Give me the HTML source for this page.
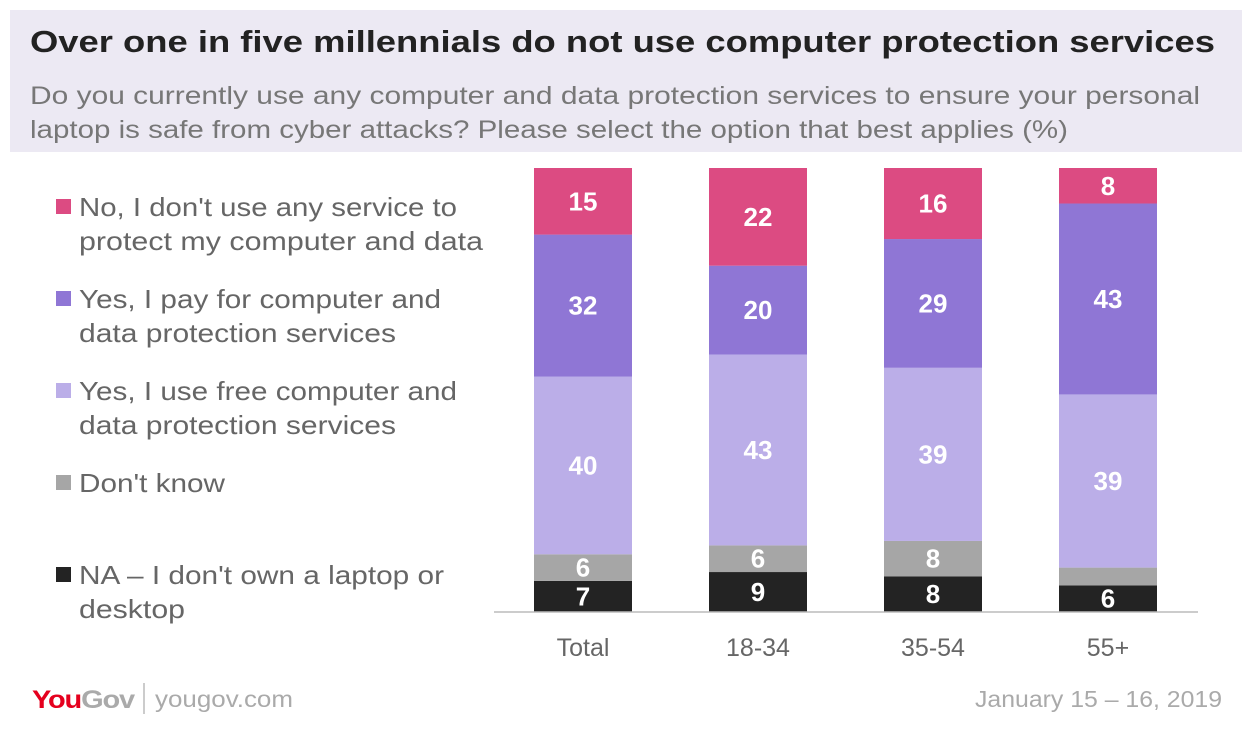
<!DOCTYPE html>
<html><head><meta charset="utf-8">
<style>
body{margin:0;background:#fff;font-family:"Liberation Sans",sans-serif;}
#wrap{position:relative;width:1254px;height:730px;overflow:hidden;}
</style></head>
<body>
<div id="wrap">
<svg id="svg" width="1254" height="730" xmlns="http://www.w3.org/2000/svg">
<rect x="10" y="10" width="1232" height="142" fill="#ece9f3"/>
<text x="30" y="52" font-size="31" font-weight="bold" fill="#222" textLength="1185" lengthAdjust="spacingAndGlyphs">Over one in five millennials do not use computer protection services</text>
<text x="30" y="104" font-size="25" fill="#777" textLength="1170" lengthAdjust="spacingAndGlyphs">Do you currently use any computer and data protection services to ensure your personal</text>
<text x="30" y="138" font-size="25" fill="#777" textLength="1038" lengthAdjust="spacingAndGlyphs">laptop is safe from cyber attacks? Please select the option that best applies (%)</text>
<g id="legend"></g>
<g id="bars"></g>
<line x1="494" y1="612" x2="1198" y2="612" stroke="#bbb" stroke-width="1.5"/>
<g id="xlabels"></g>
<text x="32" y="708" font-size="25" font-weight="bold" fill="#e5001e" letter-spacing="-1" textLength="102" lengthAdjust="spacingAndGlyphs">You<tspan fill="#aaa">Gov</tspan></text>
<line x1="144" y1="683" x2="144" y2="714" stroke="#bbb" stroke-width="1.5"/>
<text x="155" y="707" font-size="23" fill="#aaa" textLength="138" lengthAdjust="spacingAndGlyphs">yougov.com</text>
<text x="975" y="707" font-size="23" fill="#aaa" textLength="247" lengthAdjust="spacingAndGlyphs">January 15 – 16, 2019</text>
</svg>
</div>
<script>
const categories = ["Total","18-34","35-54","55+"];
const seriesNames = ["NA – I don't own a laptop or desktop","Don't know","Yes, I use free computer and data protection services","Yes, I pay for computer and data protection services","No, I don't use any service to protect my computer and data"];
const naValues = [7,9,8,6];
const dontKnowValues = [6,6,8,4];
const freeValues = [40,43,39,39];
const payValues = [32,20,29,43];
const noValues = [15,22,16,8];
const showLabel = [[true,true,true,true],[true,true,true,false],[true,true,true,true],[true,true,true,true],[true,true,true,true]];

const NS="http://www.w3.org/2000/svg";
const series=[naValues,dontKnowValues,freeValues,payValues,noValues];
const colors=["#232323","#a6a6a6","#bbaee8","#8f76d5","#dc4b82"];
const slugs=["bar-na","bar-dont-know","bar-free","bar-pay","bar-no"];
const baseY=612, plotH=444;
const xCenters=[583,758,933,1108], barW=98;
function yScale(v){return v*plotH/100;}
const bars=document.getElementById('bars');
categories.forEach((c,i)=>{
  let acc=0;
  series.forEach((s,k)=>{
    const h=yScale(s[i]);
    const y=baseY-yScale(acc)-h;
    const r=document.createElementNS(NS,'rect');
    r.setAttribute('x',xCenters[i]-barW/2);r.setAttribute('y',y);
    r.setAttribute('width',barW);r.setAttribute('height',h);
    r.setAttribute('fill',colors[k]);
    
    
    bars.appendChild(r);
    if(showLabel[k][i]){
      const t=document.createElementNS(NS,'text');
      t.setAttribute('x',xCenters[i]);t.setAttribute('y',y+h/2+9);
      t.setAttribute('text-anchor','middle');t.setAttribute('font-size','26');
      t.setAttribute('font-weight','bold');t.setAttribute('fill','#fff');
      t.textContent=s[i];
      
      
      bars.appendChild(t);
    }
    acc+=s[i];
  });
  const xl=document.createElementNS(NS,'text');
  xl.setAttribute('x',xCenters[i]);xl.setAttribute('y',656);
  xl.setAttribute('text-anchor','middle');xl.setAttribute('font-size','25');xl.setAttribute('fill','#666');
  xl.textContent=c;
  
  
  document.getElementById('xlabels').appendChild(xl);
});
const legendItems=[
 {c:colors[4],l:["No, I don't use any service to","protect my computer and data"],w:[378,404],y:207},
 {c:colors[3],l:["Yes, I pay for computer and","data protection services"],w:[362,317],y:299},
 {c:colors[2],l:["Yes, I use free computer and","data protection services"],w:[378,317],y:391},
 {c:colors[1],l:["Don't know"],w:[146],y:483},
 {c:colors[0],l:["NA – I don't own a laptop or","desktop"],w:[365,106],y:575}];
const lg=document.getElementById('legend');
legendItems.forEach(it=>{
  const sq=document.createElementNS(NS,'rect');
  sq.setAttribute('x',56);sq.setAttribute('y',it.y-8);sq.setAttribute('width',15);sq.setAttribute('height',15);
  sq.setAttribute('fill',it.c);
  
  
  lg.appendChild(sq);
  it.l.forEach((line,j)=>{
    const t=document.createElementNS(NS,'text');
    t.setAttribute('x',79);t.setAttribute('y',it.y+9+j*34);
    t.setAttribute('font-size','26');t.setAttribute('fill','#666');
    t.setAttribute('textLength',it.w[j]);t.setAttribute('lengthAdjust','spacingAndGlyphs');
    t.textContent=line;
    
    
    lg.appendChild(t);
  });
});
</script>
</body></html>
